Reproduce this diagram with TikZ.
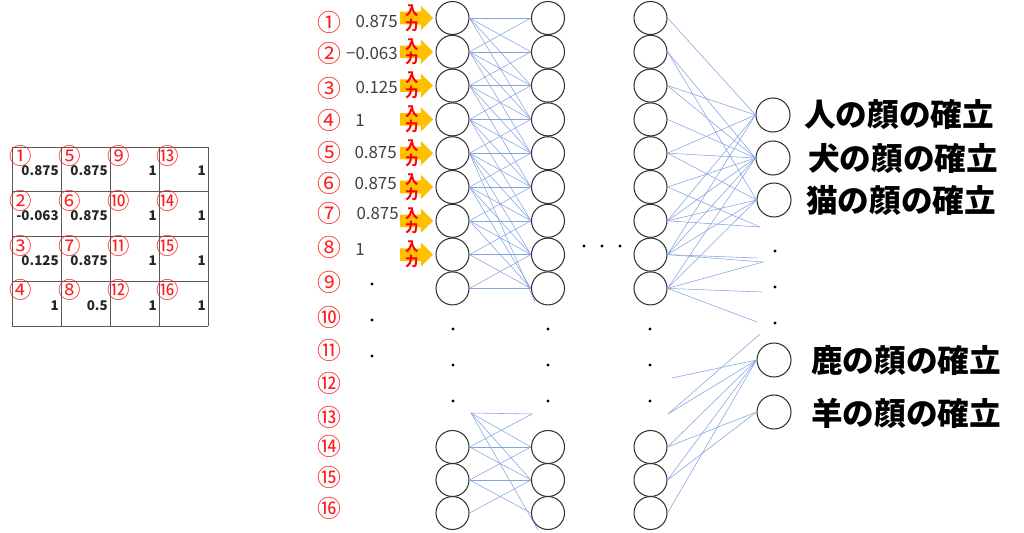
\documentclass[tikz,border=0pt]{standalone}
\usepackage{fontspec}
\setmainfont{Noto Sans CJK JP}
\usetikzlibrary{positioning,shapes.arrows}

\definecolor{wireblue}{RGB}{132,164,224}
\definecolor{inyellow}{RGB}{255,192,0}
\definecolor{numred}{RGB}{255,30,30}
\definecolor{valgray}{RGB}{64,64,64}

\tikzset{
  unit/.style={circle,draw=black!80,line width=0.75pt,minimum size=0.825cm,inner sep=0pt},
  outunit/.style={unit,minimum size=0.85cm},
  wire/.style={wireblue,line width=0.4pt},
  rownum/.style={text=numred,inner sep=0pt,font=\fontsize{17}{17}\selectfont},
  rowval/.style={text=valgray,inner sep=0pt,font=\fontsize{12}{12}\selectfont},
  cellnum/.style={text=numred,inner sep=0pt,font=\fontsize{16}{16}\selectfont},
  cellval/.style={text=black!85,inner sep=0pt,anchor=east,font=\bfseries\fontsize{9.5}{9.5}\selectfont},
  inarrow/.style={single arrow,fill=inyellow,draw=none,minimum height=0.825cm,inner sep=0.15cm,single arrow head extend=0.15cm},
  intext/.style={text=red,align=center,inner sep=0pt,font=\bfseries\fontsize{9.5}{10.5}\selectfont},
  outlabel/.style={anchor=west,inner sep=0pt,font=\bfseries\fontsize{22.5}{22.5}\selectfont},
  dotnode/.style={circle,fill=black,inner sep=0pt,minimum size=2.2pt},
  gridline/.style={black!65,line width=0.5pt},
}

\begin{document}
\begin{tikzpicture}[x=0.025cm,y=-0.025cm]
    \useasboundingbox (0,0) rectangle (1024,532);
    % the 4x4 image grid
    \foreach \k in {0,...,4} {
        \draw[gridline] ({12+49*\k},147) -- ({12+49*\k},326);
        \draw[gridline] (12,{147+44.75*\k}) -- (208,{147+44.75*\k});
    }
    \foreach \m/\v [count=\n from 0] in {①/0.875,②/-0.063,③/0.125,④/1,⑤/0.875,⑥/0.875,⑦/0.875,⑧/0.5,⑨/1,⑩/1,⑪/1,⑫/1,⑬/1,⑭/1,⑮/1,⑯/1} {
        \pgfmathtruncatemacro\cc{div(\n,4)}
        \pgfmathtruncatemacro\rr{mod(\n,4)}
        \node[cellnum] (g\n) at ({21+49*\cc},{156+44.75*\rr}) {\m};
        \node[cellval] (v\n) at ({59+49*\cc},{171+44.75*\rr}) {\v};
    }
    % input column
    \foreach \m/\y [count=\n] in {①/22,②/53,③/88,④/120,⑤/152,⑥/183,⑦/213,⑧/247,⑨/282,⑩/317,⑪/350,⑫/383,⑬/417,⑭/446,⑮/477,⑯/508}
        \node[rownum] (n\n) at (329,\y) {\m};
    \node[rowval,anchor=east] (x1) at (398,21) {0.875};
    \node[rowval,anchor=east] (x2) at (398,53) {−0.063};
    \node[rowval,anchor=east] (x3) at (398,87) {0.125};
    \node[rowval,anchor=west] (x4) at (355,120) {1};
    \node[rowval,anchor=east] (x5) at (397,152) {0.875};
    \node[rowval,anchor=east] (x6) at (397,183) {0.875};
    \node[rowval,anchor=east] (x7) at (399,213) {0.875};
    \node[rowval,anchor=west] (x8) at (355,249) {1};
    % layers
    \foreach \i in {1,...,9} {
        \node[unit] (a\i) at (452.5,{18+33.8*(\i-1)}) {};
        \node[unit] (b\i) at (548,{18+33.8*(\i-1)}) {};
        \node[unit] (c\i) at (650.5,{18+33.8*(\i-1)}) {};
    }
    \foreach \i/\y in {14/447,15/480,16/513} {
        \node[unit] (a\i) at (452.5,\y) {};
        \node[unit] (b\i) at (548,\y) {};
        \node[unit] (c\i) at (650.5,\y) {};
    }
    \node[outunit] (o1) at (773,115) {};
    \node[outunit] (o2) at (773,158) {};
    \node[outunit] (o3) at (774,200) {};
    \node[outunit] (o4) at (774,360) {};
    \node[outunit] (o5) at (774,412) {};
    % input arrows
    \foreach \i in {1,...,8} {
        \node[inarrow,left=0.05cm of a\i] (in\i) {};
        \node[intext] (t\i) at ([xshift=-0.04cm]in\i.center) {入\\力};
    }
    % dots
    \foreach \y [count=\k] in {284,320,356}
        \node[dotnode] (dn\k) at (372,\y) {};
    \foreach \y [count=\k] in {329,365,401} {
        \node[dotnode] (da\k) at (453,\y) {};
        \node[dotnode] (db\k) at (548,\y) {};
        \node[dotnode] (dc\k) at (650,\y) {};
    }
    \foreach \x [count=\k] in {584,602,620}
        \node[dotnode] (dh\k) at (\x,246) {};
    \foreach \y [count=\k] in {251,287,323}
        \node[dotnode] (do\k) at (775,\y) {};
    % first to second layer
    \foreach \i in {1,...,9}
        \foreach \d in {-1,0,1,2,3} {
            \pgfmathtruncatemacro\j{\i+\d}
            \ifnum\j>0 \ifnum\j<10 \draw[wire] (a\i.east) -- (b\j.west); \fi\fi
        }
    \coordinate (s1) at (535,302);
    \draw[wire] (a5.east) -- (s1);
    \coordinate (p1) at (471,413);
    \coordinate (p2) at (532,414);
    \coordinate (p3) at (538,530);
    \draw[wire] (p1) -- (p2);
    \draw[wire] (p1) -- (b14.west);
    \draw[wire] (p1) -- (b15.west);
    \draw[wire] (p1) -- (p3);
    \draw[wire] (a14.east) -- (p2);
    \draw[wire] (a14.east) -- (b14.west);
    \draw[wire] (a14.east) -- (b15.west);
    \draw[wire] (a15.east) -- (b14.west);
    \draw[wire] (a15.east) -- (b15.west);
    \draw[wire] (a15.east) -- (b16.west);
    \draw[wire] (a16.east) -- (b15.west);
    % last layer to outputs
    \coordinate (f1) at (760,227);
    \coordinate (f2) at (757,258);
    \coordinate (f3) at (763,262);
    \coordinate (f4) at (762,292);
    \coordinate (f5) at (757,322);
    \foreach \s/\t in {c1/o1,c2/o2,c2/o3,c3/o1,c3/o2,c4/o2,c5/o1,c5/o2,c5/o3,c6/o2,c7/o1,c7/o2,c7/o3,c8/o1,c8/o2,c8/o3,c9/o2,c9/o3}
        \draw[wire] (\s.east) -- (\t.west);
    \foreach \s/\t in {c6/f1,c7/f1,c8/f2,c8/f3,c9/f3,c9/f4,c9/f5}
        \draw[wire] (\s.east) -- (\t);
    \coordinate (q1) at (672,378);
    \coordinate (q2) at (668,414);
    \coordinate (q3) at (760,334);
    \draw[wire] (q1) -- (o4.west);
    \draw[wire] (q2) -- (o4.west);
    \draw[wire] (q2) -- (q3);
    \foreach \s/\t in {c14/o4,c14/o5,c15/o4,c15/o5,c16/o4}
        \draw[wire] (\s.east) -- (\t.west);
    % output labels
    \node[outlabel] (l1) at (804,114) {人の顔の確立};
    \node[outlabel] (l2) at (808,158) {犬の顔の確立};
    \node[outlabel] (l3) at (806,200) {猫の顔の確立};
    \node[outlabel] (l4) at (811,360) {鹿の顔の確立};
    \node[outlabel] (l5) at (811,413) {羊の顔の確立};
\end{tikzpicture}
\end{document}
